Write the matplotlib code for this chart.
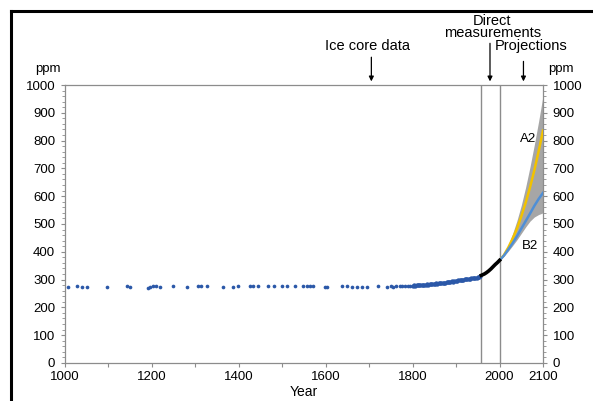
import numpy as np
import matplotlib
matplotlib.use("Agg")
import matplotlib.pyplot as plt
from matplotlib.lines import Line2D

plt.rcParams['font.family'] = ['Liberation Sans', 'DejaVu Sans']

# ice core samples (sparse part)
ice_years = [1006, 1028, 1038, 1050, 1096, 1142, 1150, 1190, 1196, 1203, 1210, 1219,
             1249, 1281, 1305, 1313, 1326, 1364, 1387, 1398, 1425, 1432, 1444, 1467,
             1482, 1499, 1510, 1529, 1547, 1556, 1563, 1571, 1598, 1604, 1637, 1650,
             1660, 1673, 1683, 1695, 1720, 1742, 1750, 1755, 1762, 1770, 1776, 1783,
             1790, 1795]
ice_ppm = [274, 275, 274, 274, 273, 275, 274, 270, 273, 276, 275, 274,
           275, 274, 277, 277, 276, 274, 274, 277, 277, 276, 275, 275,
           275, 275, 276, 276, 277, 276, 275, 275, 274, 273, 275, 276,
           274, 273, 272, 274, 275, 274, 275, 274, 275, 276, 276, 277,
           277, 278]

# ice core samples (dense part, industrial era)
dense_years = [1800, 1803, 1806, 1809, 1812, 1815, 1818, 1821, 1824, 1827, 1830, 1833,
               1836, 1839, 1842, 1845, 1848, 1851, 1854, 1857, 1860, 1863, 1866, 1869,
               1872, 1875, 1878, 1881, 1884, 1887, 1890, 1893, 1896, 1899, 1902, 1905,
               1908, 1911, 1914, 1917, 1920, 1923, 1926, 1929, 1932, 1935, 1938, 1941,
               1944, 1947, 1950, 1953, 1956]
dense_ppm = [278, 279, 278, 280, 279, 280, 280, 281, 280, 282, 281, 283,
             282, 283, 284, 283, 285, 284, 286, 285, 287, 286, 288, 287,
             289, 289, 290, 291, 290, 292, 293, 292, 294, 295, 295, 297,
             297, 298, 299, 299, 301, 301, 302, 303, 303, 304, 305, 305,
             306, 307, 308, 309, 311]

# direct measurements
meas_years = [1958, 1965, 1970, 1975, 1980, 1985, 1990, 1995, 2000]
meas_ppm = [315, 320, 325, 331, 338, 346, 354, 361, 369]

# projections
proj_years = [2000, 2010, 2020, 2030, 2040, 2050, 2060, 2070, 2080, 2090, 2100]
a2_ppm = [369, 388, 415, 447, 483, 527, 576, 631, 693, 762, 836]
b2_ppm = [369, 386, 408, 431, 456, 483, 510, 537, 565, 590, 612]
env_high = [369, 392, 425, 465, 512, 567, 632, 705, 785, 870, 962]
env_low = [369, 384, 402, 422, 443, 466, 489, 510, 525, 534, 540]

fig = plt.figure(figsize=(5.93, 4.01), dpi=100)
ax = fig.add_axes([0.1096, 0.095, 0.8061, 0.693])

gray = '#8c8c8c'
ax.fill_between(proj_years, env_low, env_high, color='#a6a6a6', lw=0, zorder=1)
ax.plot(proj_years, a2_ppm, color='#f2c200', lw=1.8, zorder=3)
ax.plot(proj_years, b2_ppm, color='#4f8fd6', lw=1.8, zorder=3)
ax.scatter(ice_years, ice_ppm, s=7, color='#2b58a8', lw=0, zorder=4)
ax.scatter(dense_years, dense_ppm, s=10, color='#2b58a8', lw=0, zorder=4)
ax.plot(meas_years, meas_ppm, color='black', lw=2.6, zorder=5)

ax.axvline(1958, color=gray, lw=1.0, zorder=2)
ax.axvline(2000, color=gray, lw=1.0, zorder=2)

ax.set_xlim(1000, 2100)
ax.set_ylim(0, 1000)

for sp in ax.spines.values():
    sp.set_color(gray)
    sp.set_linewidth(0.9)

xt = list(range(1000, 2101, 100))
ax.set_xticks(xt)
ax.set_xticklabels([str(t) if t in (1000, 1200, 1400, 1600, 1800, 2000, 2100) else ''
                    for t in xt], fontsize=9.5)
ax.tick_params(axis='x', direction='out', length=3, color=gray, pad=3)

yt = list(range(0, 1001, 100))
ax.set_yticks(yt)
ax.set_yticks(list(range(0, 1001, 20)), minor=True)
ax.tick_params(axis='y', which='both', direction='out', color=gray,
               left=True, right=True, labelleft=True, labelright=True, labelsize=9.5)
ax.tick_params(axis='y', which='major', length=3, pad=4)
ax.tick_params(axis='y', which='minor', length=2)

ax.set_xlabel('Year', fontsize=10, labelpad=1)

ax.text(-0.01, 1.035, 'ppm', transform=ax.transAxes, ha='right', va='bottom', fontsize=9.5)
ax.text(1.01, 1.035, 'ppm', transform=ax.transAxes, ha='left', va='bottom', fontsize=9.5)

ax.text(2066, 805, 'A2', fontsize=9.5, ha='center', va='center')
ax.text(2071, 422, 'B2', fontsize=9.5, ha='center', va='center')

arrow = dict(arrowstyle='-|>', color='black', lw=0.9, mutation_scale=7)
ax.annotate('', xy=(1705, 1003), xytext=(1705, 1110), arrowprops=arrow, annotation_clip=False)
ax.text(1695, 1115, 'Ice core data', ha='center', va='bottom', fontsize=10.5)
ax.annotate('', xy=(1978, 1003), xytext=(1978, 1160), arrowprops=arrow, annotation_clip=False)
ax.text(1983, 1162, 'Direct\nmeasurements', ha='center', va='bottom', fontsize=10.5,
        linespacing=0.85)
ax.annotate('', xy=(2055, 1003), xytext=(2055, 1095), arrowprops=arrow, annotation_clip=False)
ax.text(2072, 1115, 'Projections', ha='center', va='bottom', fontsize=10.5)

# frame lines at top and left
fig.add_artist(Line2D([11 / 593, 1.0], [1 - 11 / 401, 1 - 11 / 401], color='black', lw=2.2,
                      transform=fig.transFigure))
fig.add_artist(Line2D([11 / 593, 11 / 593], [0.0, 1 - 11 / 401], color='black', lw=2.2,
                      transform=fig.transFigure))

fig.savefig('out.png', dpi=100)
